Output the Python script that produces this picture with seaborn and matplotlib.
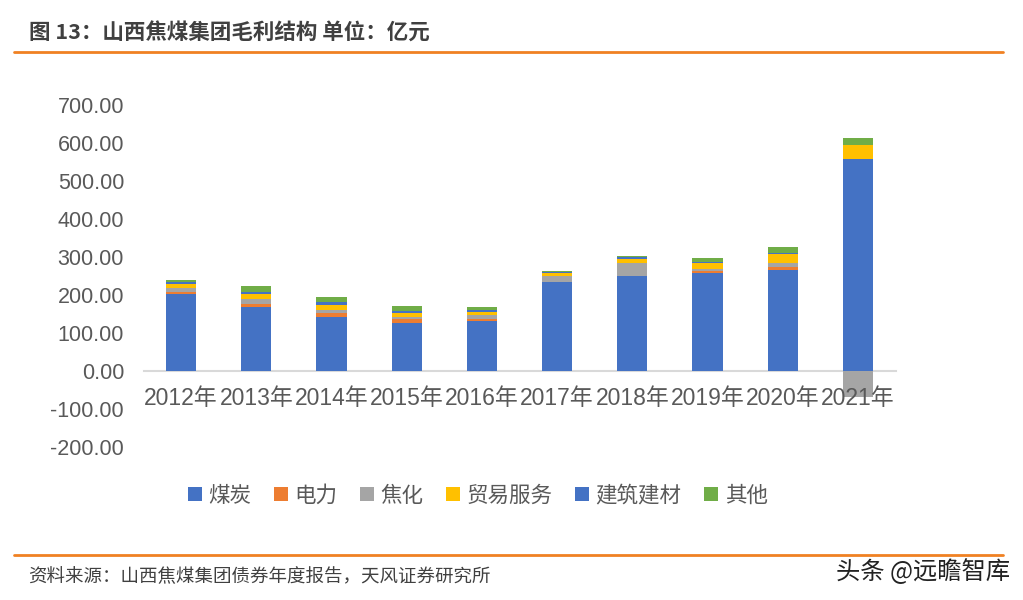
import numpy as np
import pandas as pd
import seaborn as sns
import matplotlib.pyplot as plt
from matplotlib.patches import Patch
from matplotlib.lines import Line2D
from matplotlib.ticker import FormatStrFormatter

# Data (亿元)
years = ['2012年', '2013年', '2014年', '2015年', '2016年',
         '2017年', '2018年', '2019年', '2020年', '2021年']
coal = [202, 167, 141, 126, 131, 233, 249, 258, 265, 558]
power = [6, 8, 11, 10, 6, 1, 1, 6, 7, 0]
coke = [9, 13, 7, 5, 10, 16, 34, 3, 11, -70]
trade = [11, 13, 15, 10, 7, 7, 10, 16, 24, 37]
building = [7, 7, 8, 6, 5, 3, 5, 3, 3, 0]
other = [4, 15, 11, 13, 8, 4, 3, 12, 17, 19]

series_names = ['煤炭', '电力', '焦化', '贸易服务', '建筑建材', '其他']
series_values = [coal, power, coke, trade, building, other]
colors = ['#4472C4', '#ED7D31', '#A5A5A5', '#FFC000', '#4472C4', '#70AD47']

sns.set_style('white')
plt.rcParams['font.family'] = ['Liberation Sans', 'Noto Sans CJK SC', 'DejaVu Sans']
plt.rcParams['axes.unicode_minus'] = False

fig = plt.figure(figsize=(10.23, 6.0), dpi=100, facecolor='white')
ax = fig.add_axes([0.1403, 0.2555, 0.7351, 0.5695])

# stacked bars: positives stack upward, negatives downward
pos_base = np.zeros(len(years))
neg_base = np.zeros(len(years))
for name, vals, col in zip(series_names, series_values, colors):
    vals = np.array(vals, dtype=float)
    bottom = np.where(vals >= 0, pos_base, neg_base)
    df = pd.DataFrame({'year': years, 'value': vals})
    sns.barplot(data=df, x='year', y='value', order=years, color=col,
                width=0.4, bottom=bottom, errorbar=None, saturation=1,
                linewidth=0, ax=ax)
    pos_base = pos_base + np.where(vals >= 0, vals, 0)
    neg_base = neg_base + np.where(vals < 0, vals, 0)

ax.set_xlim(-0.5, 9.5)
ax.set_ylim(-200, 700)
ax.set_yticks(range(-200, 701, 100))
ax.yaxis.set_major_formatter(FormatStrFormatter('%.2f'))
ax.set_xlabel('')
ax.set_ylabel('')
ax.set_axisbelow(False)

for s in ['top', 'right', 'left']:
    ax.spines[s].set_visible(False)
ax.spines['bottom'].set_position(('data', 0))
ax.spines['bottom'].set_color('#D9D9D9')
ax.spines['bottom'].set_linewidth(1.5)
ax.spines['bottom'].set_zorder(0.5)
ax.tick_params(axis='both', length=0, colors='#595959')
ax.tick_params(axis='y', pad=14, labelsize=15.5)
ax.tick_params(axis='x', pad=12, labelsize=16.5)

# legend
handles = [Patch(facecolor=c, edgecolor='none') for c in colors]
fig.legend(handles, series_names, loc='center', bbox_to_anchor=(0.467, 1 - 496 / 600),
           ncol=6, frameon=False, fontsize=15.5, handlelength=0.65, handleheight=0.65,
           handletextpad=0.3, columnspacing=1.05, labelcolor='#595959')

# title, source and rules
fig.text(29 / 1023, 1 - 33 / 600, '图 13：山西焦煤集团毛利结构 单位：亿元', fontsize=15.5,
         fontweight='bold', color='#404040', va='center', ha='left',
         family=['Noto Sans CJK SC', 'DejaVu Sans'])
fig.add_artist(Line2D([14 / 1023, 1003 / 1023], [1 - 52 / 600] * 2, color='#F08122', lw=2))
fig.add_artist(Line2D([14 / 1023, 1003 / 1023], [1 - 555 / 600] * 2, color='#F08122', lw=2))
fig.text(28 / 1023, 1 - 577 / 600, '资料来源：山西焦煤集团债券年度报告，天风证券研究所', fontsize=13.3,
         color='#404040', va='center', ha='left', family=['Noto Sans CJK SC', 'DejaVu Sans'])
fig.text(1010 / 1023, 1 - 572 / 600, '头条 @远瞻智库', fontsize=17.5, color='#222222',
         va='center', ha='right', family=['Noto Sans CJK SC', 'DejaVu Sans'])

fig.savefig('out.png', dpi=100, facecolor='white')
